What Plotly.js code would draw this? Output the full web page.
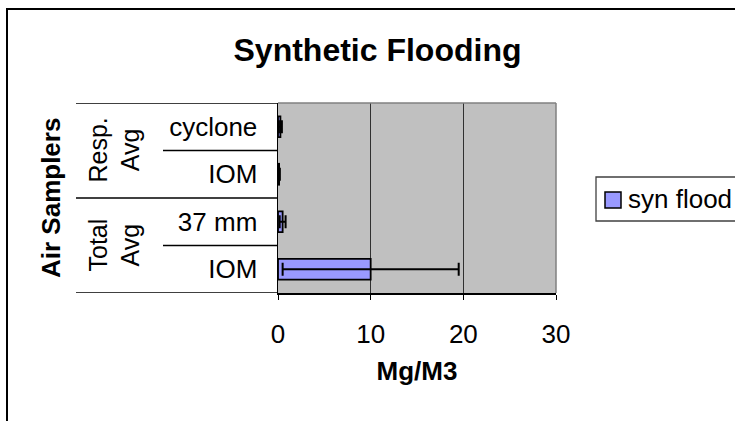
<!DOCTYPE html>
<html>
<head>
<meta charset="utf-8">
<script src="https://cdn.plot.ly/plotly-3.0.1.min.js"></script>
<style>html,body{margin:0;padding:0;background:#fff;}#chart{width:735px;height:421px;}</style>
</head>
<body>
<div id="chart"></div>
<script>
// Data (bottom to top)
const categories = ["IOM", "37 mm", "IOM", "cyclone"];
const groups = ["Total<br>Avg", "Total<br>Avg", "Resp.<br>Avg", "Resp.<br>Avg"];
const groupNames = ["Total<br>Avg", "Resp.<br>Avg"];
const values = [10.0, 0.5, 0.12, 0.26];
const errors = [9.5, 0.32, 0.08, 0.16];
const seriesName = "syn flood";
const xTicks = [0, 10, 20, 30];

const FONT = "Liberation Sans, Arial, sans-serif";
const W = 735, H = 421;
const L = 278, R = 556, T = 103, B = 293;
const px = x => (x - L) / (R - L);
const py = y => (B - y) / (B - T);

const yIdx = categories.map((c, i) => i);
const BAR_COLOR = "#9999FF";

const trace = {
  type: "bar",
  orientation: "h",
  name: seriesName,
  x: values,
  y: yIdx,
  width: 0.44,
  marker: {color: BAR_COLOR, line: {color: "#000000", width: 1.8}},
  error_x: {type: "data", array: errors, visible: true, color: "#000000", thickness: 2, width: 6.5},
  showlegend: false
};

const shapes = [];
// outer chart border
shapes.push({type: "rect", xref: "paper", yref: "paper", x0: px(7), x1: px(745), y0: py(9), y1: py(430),
  line: {color: "#000000", width: 2}, fillcolor: "rgba(0,0,0,0)", layer: "above"});
// table lines: group boundaries
const n = categories.length;
const groupBounds = [-0.5];
for (let i = 1; i < n; i++) if (groups[i] !== groups[i - 1]) groupBounds.push(i - 0.5);
groupBounds.push(n - 0.5);
groupBounds.forEach(b => shapes.push({type: "line", xref: "paper", yref: "y", x0: px(76), x1: 0, y0: b, y1: b,
  line: {color: "#000000", width: 1.3}}));
// category separators within groups
for (let i = 1; i < n; i++) if (groups[i] === groups[i - 1]) {
  shapes.push({type: "line", xref: "paper", yref: "y", x0: px(163), x1: 0, y0: i - 0.5, y1: i - 0.5,
    line: {color: "#000000", width: 1.3}});
}
// gray top/right plot border
shapes.push({type: "line", xref: "paper", yref: "paper", x0: 0, x1: 1, y0: 1, y1: 1, line: {color: "#808080", width: 1.5}});
shapes.push({type: "line", xref: "paper", yref: "paper", x0: 1, x1: 1, y0: 0, y1: 1, line: {color: "#808080", width: 1.5}});
// legend box and swatch
shapes.push({type: "rect", xref: "paper", yref: "paper", x0: px(596), x1: px(745), y0: py(177), y1: py(221),
  line: {color: "#404040", width: 1.3}, fillcolor: "#ffffff"});
shapes.push({type: "rect", xref: "paper", yref: "paper", x0: px(605), x1: px(621), y0: py(192), y1: py(208),
  line: {color: "#000000", width: 1.5}, fillcolor: BAR_COLOR});

const annotations = [];
// group labels
groupNames.forEach(g => {
  const idx = yIdx.filter(i => groups[i] === g);
  const c = (Math.min(...idx) + Math.max(...idx)) / 2;
  annotations.push({text: g, xref: "paper", yref: "y", x: px(114), y: c, showarrow: false, textangle: -90,
    xanchor: "center", yanchor: "middle", font: {family: FONT, size: 25, color: "#000"}});
});
// y axis title
annotations.push({text: "<b>Air Samplers</b>", xref: "paper", yref: "paper", x: px(51), y: 0.5, showarrow: false,
  textangle: -90, xanchor: "center", yanchor: "middle", font: {family: FONT, size: 26, color: "#000"}});
// legend text
annotations.push({text: seriesName, xref: "paper", yref: "paper", x: px(626), y: py(199), showarrow: false,
  xanchor: "left", yanchor: "middle", font: {family: FONT, size: 26, color: "#000"}});

const layout = {
  width: W, height: H,
  margin: {l: L, r: W - R, t: T, b: H - B, pad: 0},
  paper_bgcolor: "#ffffff",
  plot_bgcolor: "#C0C0C0",
  font: {family: FONT, size: 26, color: "#000"},
  title: {text: "<b>Synthetic Flooding</b>", font: {family: FONT, size: 32, color: "#000"},
    xref: "paper", x: px(377.5), xanchor: "center", yref: "container", y: 1 - 50 / H, yanchor: "middle"},
  xaxis: {range: [0, 30], tickvals: xTicks, ticktext: xTicks.map(String), showgrid: true, gridcolor: "#303030", gridwidth: 1.3,
    zeroline: false, showline: true, linecolor: "#000", linewidth: 1.5, ticks: "outside", ticklen: 5, tickcolor: "#000",
    tickwidth: 1, ticklabelstandoff: 12, tickfont: {family: FONT, size: 26},
    title: {text: "<b>Mg/M3</b>", font: {family: FONT, size: 26}, standoff: 14}, fixedrange: true, automargin: false},
  yaxis: {range: [-0.5, n - 0.5], tickvals: yIdx, ticktext: categories, showgrid: false, zeroline: false,
    showline: true, linecolor: "#000", linewidth: 1.5, ticks: "", ticklabelstandoff: 14,
    tickfont: {family: FONT, size: 26}, fixedrange: true, automargin: false},
  showlegend: false,
  bargap: 0.56,
  shapes: shapes,
  annotations: annotations
};

Plotly.newPlot("chart", [trace], layout, {displayModeBar: false, staticPlot: true});
</script>
</body>
</html>
